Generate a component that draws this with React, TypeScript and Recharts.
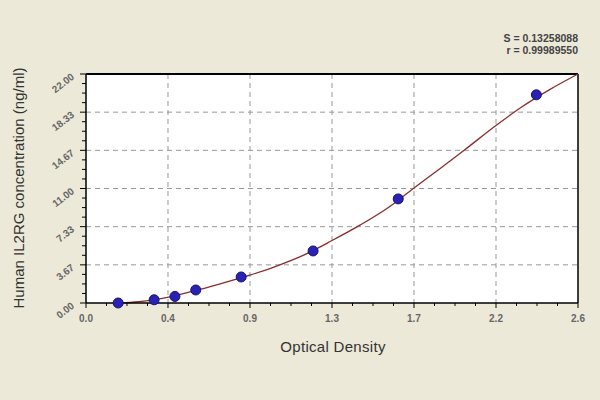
import { ComposedChart, Line, Scatter, XAxis, YAxis, CartesianGrid, ReferenceLine } from "recharts";

// standards: optical density vs concentration (ng/ml)
const STD_OD = [0.17, 0.36, 0.47, 0.58, 0.82, 1.2, 1.65, 2.38];
const STD_CONC = [0, 0.31, 0.63, 1.25, 2.5, 5, 10, 20];

// fitted curve
const FIT_OD = [0.17, 0.28, 0.45, 0.6, 0.7, 0.87, 1.0, 1.15, 1.3, 1.45, 1.6, 1.73, 1.87, 2.0, 2.17, 2.3, 2.45, 2.6];
const FIT_CONC = [0, 0.12, 0.62, 1.3, 1.8, 2.7, 3.5, 4.6, 6.0, 7.5, 9.2, 11.0, 12.9, 14.7, 17.1, 18.8, 20.5, 22.0];

const X_TICKS = [0, 0.43333, 0.86667, 1.3, 1.73333, 2.16667, 2.6];
const X_TICK_LABELS = ["0.0", "0.4", "0.9", "1.3", "1.7", "2.2", "2.6"];
const Y_TICKS = [0, 3.66667, 7.33333, 11, 14.66667, 18.33333, 22];
const Y_TICK_LABELS = ["0.00", "3.67", "7.33", "11.00", "14.67", "18.33", "22.00"];

const standards = STD_OD.map((od, i) => ({ od, conc: STD_CONC[i] }));
const fit = FIT_OD.map((od, i) => ({ od, conc: FIT_CONC[i] }));

// major ticks plus 3 minor ticks in between
const withMinor = (major: number[]) =>
  major.flatMap((v, i) =>
    i === major.length - 1 ? [v] : [0, 1, 2, 3].map((k) => v + ((major[i + 1] - v) * k) / 4)
  );

const findMajor = (list: number[], v: number) => list.findIndex((t) => Math.abs(t - v) < 1e-4);

const tickFont = { fontFamily: "Liberation Sans, Arial, sans-serif", fontSize: 10, fontWeight: 700, fill: "#666" };

const XTick = (props: any) => {
  const { x, y, payload } = props;
  const idx = findMajor(X_TICKS, payload.value);
  return (
    <g>
      <line x1={x} x2={x} y1={y} y2={y + (idx >= 0 ? 5 : 3)} stroke="#000" />
      {idx >= 0 && (
        <text x={x} y={y + 19} textAnchor="middle" {...tickFont}>
          {X_TICK_LABELS[idx]}
        </text>
      )}
    </g>
  );
};

const YTick = (props: any) => {
  const { x, y, payload } = props;
  const idx = findMajor(Y_TICKS, payload.value);
  const lx = x - 11;
  const ly = y + 4;
  return (
    <g>
      <line x1={x} x2={x - (idx >= 0 ? 6 : 4)} y1={y} y2={y} stroke="#000" />
      {idx >= 0 && (
        <text x={lx} y={ly} textAnchor="end" transform={`rotate(-38 ${lx} ${ly})`} {...tickFont}>
          {Y_TICK_LABELS[idx]}
        </text>
      )}
    </g>
  );
};

export default function App() {
  return (
    <div style={{ position: "absolute", left: 0, top: 0, width: 600, height: 400, background: "#ECE9D8", fontFamily: "Liberation Sans, Arial, sans-serif" }}>
      <ComposedChart width={600} height={400} margin={{ top: 74, right: 22, bottom: 67, left: 0 }}>
        <CartesianGrid
          fill="#fff"
          stroke="#999"
          strokeDasharray="5 4"
          horizontalValues={Y_TICKS.slice(1, -1)}
          verticalValues={X_TICKS.slice(1, -1)}
        />
        <XAxis
          type="number"
          dataKey="od"
          domain={[0, 2.6]}
          ticks={withMinor(X_TICKS)}
          interval={0}
          height={30}
          tickSize={0}
          tickMargin={0}
          tickLine={false}
          axisLine={{ stroke: "#000", strokeWidth: 1.5 }}
          tick={<XTick />}
        />
        <YAxis
          type="number"
          dataKey="conc"
          domain={[0, 22]}
          ticks={withMinor(Y_TICKS)}
          interval={0}
          width={86}
          tickSize={0}
          tickMargin={0}
          tickLine={false}
          axisLine={{ stroke: "#000", strokeWidth: 1.5 }}
          tick={<YTick />}
        />
        <ReferenceLine y={22} stroke="#000" strokeWidth={2} />
        <ReferenceLine x={2.6} stroke="#000" strokeWidth={1.5} />
        <Line
          data={fit}
          dataKey="conc"
          type="monotone"
          stroke="#8a2c2c"
          strokeWidth={1.3}
          dot={false}
          isAnimationActive={false}
        />
        <Scatter
          data={standards}
          dataKey="conc"
          fill="#2a22b5"
          stroke="#1a1070"
          shape={(p: any) => <circle cx={p.cx} cy={p.cy} r={5} fill="#2a22b5" stroke="#1a1070" />}
          isAnimationActive={false}
        />
      </ComposedChart>
      <div style={{ position: "absolute", left: 18, top: 188, transform: "translate(-50%, -50%) rotate(-90deg)", whiteSpace: "nowrap", fontSize: 15, color: "#333" }}>
        Human IL2RG concentration (ng/ml)
      </div>
      <div style={{ position: "absolute", left: 333, top: 346, transform: "translate(-50%, -50%)", whiteSpace: "nowrap", fontSize: 15, letterSpacing: 0.3, color: "#333" }}>
        Optical Density
      </div>
      <div style={{ position: "absolute", right: 22, top: 32, textAlign: "right", fontSize: 10.5, fontWeight: 700, lineHeight: "12px", color: "#444" }}>
        <div>S = 0.13258088</div>
        <div>r = 0.99989550</div>
      </div>
    </div>
  );
}
